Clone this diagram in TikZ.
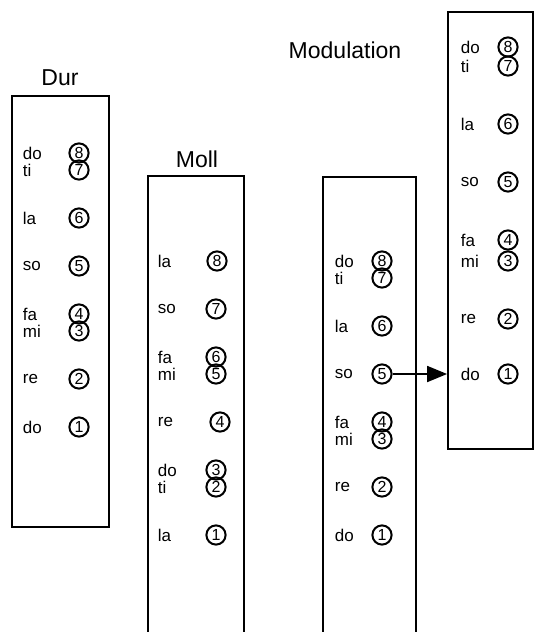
\documentclass[tikz,border=0pt]{standalone}
\usepackage{fontspec}
\setmainfont{Liberation Sans}
\usetikzlibrary{arrows.meta}
\tikzset{
  syl/.style={anchor=west,inner sep=0pt,font=\fontsize{8.5}{9}\selectfont},
  deg/.style={shape=circle,draw=black,line width=1pt,inner sep=0pt,minimum size=9.6pt,font=\fontsize{8}{8}\selectfont},
  ttl/.style={font=\fontsize{11.5}{12}\selectfont},
}
\begin{document}
\begin{tikzpicture}[x=0.5pt,y=-0.5pt,line width=0.9pt]
\useasboundingbox (0,0) rectangle (536,632);
% Dur
\node (durt) at (60,78) [ttl] {Dur};
\draw (12,96) rectangle (109,527);
\node (ds8) at (22,153) [syl] {do};
\node (dd8) at (79,153) [deg] {8};
\node (ds7) at (22,170) [syl] {ti};
\node (dd7) at (79,170) [deg] {7};
\node (ds6) at (22,218) [syl] {la};
\node (dd6) at (79,218) [deg] {6};
\node (ds5) at (22,266) [syl] {so};
\node (dd5) at (79,266) [deg] {5};
\node (ds4) at (22,314) [syl] {fa};
\node (dd4) at (79,314) [deg] {4};
\node (ds3) at (22,331) [syl] {mi};
\node (dd3) at (79,331) [deg] {3};
\node (ds2) at (22,379) [syl] {re};
\node (dd2) at (79,379) [deg] {2};
\node (ds1) at (22,427) [syl] {do};
\node (dd1) at (79,427) [deg] {1};
% Moll
\node (molt) at (197,159) [ttl] {Moll};
\draw (148,640) -- (148,176) -- (244,176) -- (244,640);
\node (ms8) at (157,261) [syl] {la};
\node (md8) at (217,261) [deg] {8};
\node (ms7) at (157,309) [syl] {so};
\node (md7) at (216,309) [deg] {7};
\node (ms6) at (157,357) [syl] {fa};
\node (md6) at (216,357) [deg] {6};
\node (ms5) at (157,374) [syl] {mi};
\node (md5) at (216,374) [deg] {5};
\node (ms4) at (157,422) [syl] {re};
\node (md4) at (220,422) [deg] {4};
\node (ms3) at (157,470) [syl] {do};
\node (md3) at (216,470) [deg] {3};
\node (ms2) at (157,487) [syl] {ti};
\node (md2) at (216,487) [deg] {2};
\node (ms1) at (157,535) [syl] {la};
\node (md1) at (216,535) [deg] {1};
% Modulation
\node (modt) at (345,50) [ttl] {Modulation};
\draw (323,640) -- (323,177) -- (416,177) -- (416,640);
\node (os8) at (334,261) [syl] {do};
\node (od8) at (382,261) [deg] {8};
\node (os7) at (334,278) [syl] {ti};
\node (od7) at (382,278) [deg] {7};
\node (os6) at (334,326) [syl] {la};
\node (od6) at (382,326) [deg] {6};
\node (os5) at (334,374) [syl] {so};
\node (od5) at (382,374) [deg] {5};
\node (os4) at (334,422) [syl] {fa};
\node (od4) at (382,422) [deg] {4};
\node (os3) at (334,439) [syl] {mi};
\node (od3) at (382,439) [deg] {3};
\node (os2) at (334,487) [syl] {re};
\node (od2) at (382,487) [deg] {2};
\node (os1) at (334,535) [syl] {do};
\node (od1) at (382,535) [deg] {1};
% new key
\node (nbox) at (490.5,230.5) [draw,minimum width=42.5pt,minimum height=218.5pt,inner sep=0pt] {};
\node (ns8) at (460,47) [syl] {do};
\node (nd8) at (508,47) [deg] {8};
\node (ns7) at (460,66) [syl] {ti};
\node (nd7) at (508,66) [deg] {7};
\node (ns6) at (460,124) [syl] {la};
\node (nd6) at (508,124) [deg] {6};
\node (ns5) at (460,182) [syl] {so};
\node (nd5) at (508,182) [deg] {5};
\node (ns4) at (460,240) [syl] {fa};
\node (nd4) at (508,240) [deg] {4};
\node (ns3) at (460,261) [syl] {mi};
\node (nd3) at (508,261) [deg] {3};
\node (ns2) at (460,319) [syl] {re};
\node (nd2) at (508,319) [deg] {2};
\node (ns1) at (460,374) [syl] {do};
\node (nd1) at (508,374) [deg] {1};
\draw [-{Triangle[length=10pt,width=8pt]}] (od5.east) -- (od5.east -| nbox.west);
\end{tikzpicture}
\end{document}
